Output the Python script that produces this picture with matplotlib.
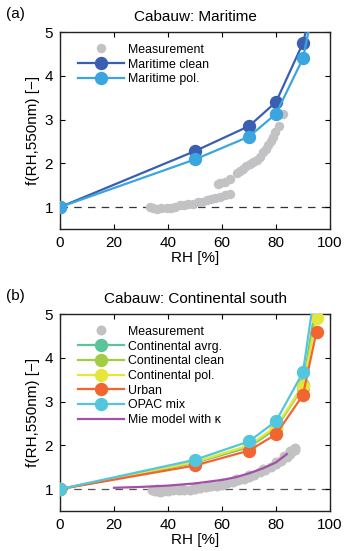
import matplotlib
matplotlib.use("Agg")
import matplotlib.pyplot as plt

plt.rcParams['font.family'] = ['Liberation Sans', 'DejaVu Sans']

# ---------------- data: panel (a) ----------------
rh_model_a = [0, 50, 70, 80, 90, 95]
mar_clean = [1.0, 2.28, 2.85, 3.40, 4.75, 6.0]
mar_pol = [1.0, 2.09, 2.61, 3.13, 4.40, 5.9]

meas_a_rh = [33.3, 34.6, 36.0, 37.5, 39.5, 41.0, 42.5, 44.4, 46.0, 47.5, 49.4, 51.0,
             52.5, 54.3, 56.0, 57.5, 59.3, 61.0, 63.0,
             58.6, 59.3, 61.0, 63.0, 65.4, 66.5, 67.9, 69.0, 70.4, 71.5, 72.8, 74.0,
             75.3, 76.3, 77.2, 78.0, 79.0, 79.8, 81.0, 82.7, 80.5]
meas_a_f = [1.00, 0.97, 0.96, 0.97, 0.99, 0.98, 1.00, 1.05, 1.04, 1.06, 1.08, 1.11,
            1.12, 1.16, 1.18, 1.21, 1.23, 1.27, 1.31,
            1.52, 1.54, 1.58, 1.65, 1.77, 1.82, 1.88, 1.95, 1.99, 2.02, 2.07, 2.15,
            2.26, 2.33, 2.41, 2.50, 2.60, 2.72, 2.86, 3.13, 3.13]

# ---------------- data: panel (b) ----------------
rh_model_b = [0, 50, 70, 80, 90, 95]
cont_avrg = [1.0, 1.60, 1.96, 2.38, 3.38, 5.3]
cont_clean = [1.0, 1.61, 1.98, 2.40, 3.32, 5.1]
cont_pol = [1.0, 1.62, 2.00, 2.43, 3.36, 4.9]
urban = [1.0, 1.54, 1.88, 2.25, 3.15, 4.6]
opac_mix = [1.0, 1.67, 2.09, 2.55, 3.67, 5.8]

mie_rh = [20, 30, 40, 50, 60, 65, 70, 75, 80, 84]
mie_f = [1.03, 1.05, 1.08, 1.13, 1.21, 1.27, 1.36, 1.47, 1.61, 1.80]

meas_b_rh = [34, 35, 36, 37, 38, 40, 42, 44, 46, 48, 50, 52, 54, 56, 58, 60, 62, 64,
             66, 68, 70, 72, 74, 76, 78, 80, 82, 84, 85, 86, 87,
             36, 40, 45, 50, 55, 60, 65, 70, 75, 80, 83, 85, 86.5, 87]
meas_b_f = [0.98, 0.95, 0.97, 0.94, 0.96, 0.96, 0.97, 0.97, 0.98, 0.99, 1.00, 1.02,
            1.04, 1.06, 1.08, 1.10, 1.13, 1.16, 1.20, 1.24, 1.28, 1.33, 1.38, 1.44,
            1.50, 1.57, 1.65, 1.74, 1.80, 1.86, 1.90,
            1.00, 0.99, 1.01, 1.04, 1.08, 1.15, 1.22, 1.32, 1.45, 1.62, 1.75, 1.86,
            1.91, 1.93]

xticks = [0, 20, 40, 60, 80, 100]
yticks = [1, 2, 3, 4, 5]

gray = '#c2c2c4'
ms = 8.6
lw = 1.6

fig = plt.figure(figsize=(3.44, 5.51), dpi=100)
W, H = 344, 551


def make_ax(top_px, bot_px):
    ax = fig.add_axes([60 / W, 1 - bot_px / H, 270 / W, (bot_px - top_px) / H])
    ax.set_xlim(0, 100)
    ax.set_ylim(0.5, 5)
    ax.set_xticks(xticks)
    ax.set_yticks(yticks)
    ax.tick_params(direction='in', top=True, right=True, labelsize=11,
                   length=3.5, width=0.8, pad=5)
    for s in ax.spines.values():
        s.set_linewidth(1.0)
        s.set_color('#222222')
    ax.set_xlabel('RH [%]', fontsize=11, labelpad=1)
    ax.set_ylabel('f(RH,550nm) [\u2212]', fontsize=11, labelpad=3)
    return ax


leg_kw = dict(loc='upper left', bbox_to_anchor=(0.068, 0.94), frameon=False,
              fontsize=8.9, handlelength=3.7, handletextpad=0.35, labelspacing=0.22,
              borderpad=0, borderaxespad=0)

# ----- panel a -----
ax1 = make_ax(32, 229)
ax1.axhline(1, color='#333333', lw=0.9, ls=(0, (6, 5)), zorder=1)
ax1.plot(meas_a_rh, meas_a_f, 'o', color=gray, ms=6.8, mec='none',
         label='Measurement', zorder=2)
ax1.plot(rh_model_a, mar_clean, '-o', color='#3a5fb2', ms=ms, lw=lw,
         label='Maritime clean', zorder=3)
ax1.plot(rh_model_a, mar_pol, '-o', color='#3aa5de', ms=ms, lw=lw,
         label='Maritime pol.', zorder=4)
ax1.set_title('Cabauw: Maritime', fontsize=11, pad=8)
ax1.text(-0.2, 1.07, '(a)', transform=ax1.transAxes, fontsize=11)
ax1.legend(**leg_kw)

# ----- panel b -----
ax2 = make_ax(314, 511)
ax2.axhline(1, color='#555555', lw=0.9, ls=(0, (6, 5)), zorder=1)
ax2.plot(meas_b_rh, meas_b_f, 'o', color=gray, ms=7.2, mec='none',
         label='Measurement', zorder=2)
ax2.plot(rh_model_b, cont_avrg, '-o', color='#5cc49a', ms=ms, lw=lw,
         label='Continental avrg.', zorder=3)
ax2.plot(rh_model_b, cont_clean, '-o', color='#a2cc44', ms=ms, lw=lw,
         label='Continental clean', zorder=3)
ax2.plot(rh_model_b, cont_pol, '-o', color='#e6e63a', ms=ms, lw=lw,
         label='Continental pol.', zorder=3)
ax2.plot(rh_model_b, urban, '-o', color='#f26430', ms=ms, lw=lw,
         label='Urban', zorder=3)
ax2.plot(rh_model_b, opac_mix, '-o', color='#52c6dc', ms=ms, lw=lw,
         label='OPAC mix', zorder=3)
ax2.plot(mie_rh, mie_f, '-', color='#a44fa8', lw=lw,
         label='Mie model with \u03ba', zorder=4)
ax2.set_title('Cabauw: Continental south', fontsize=11, pad=8)
ax2.text(-0.2, 1.07, '(b)', transform=ax2.transAxes, fontsize=11)
ax2.legend(**leg_kw)

fig.savefig('out.png', dpi=100)
